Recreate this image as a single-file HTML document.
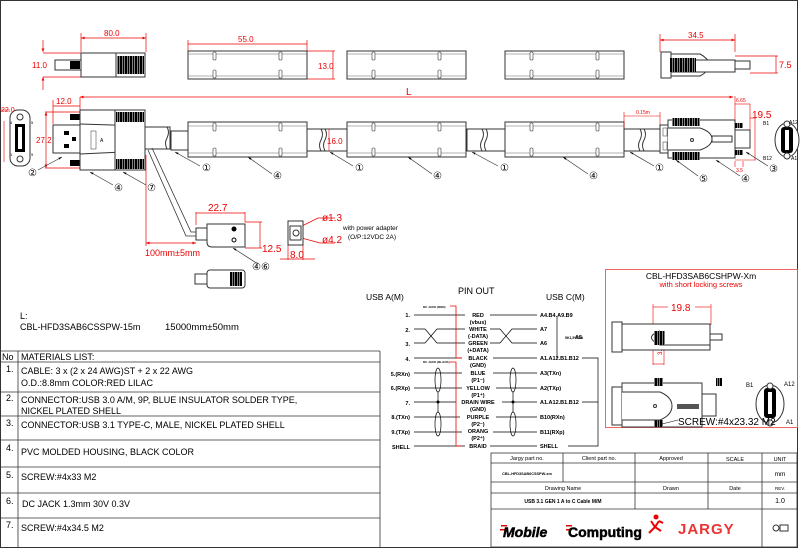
<!DOCTYPE html>
<html><head><meta charset="utf-8"><style>
html,body{margin:0;padding:0;background:#fff}
svg{display:block}
text{font-family:"Liberation Sans",Arial,sans-serif}
</style></head><body>
<svg width="800" height="549" viewBox="0 0 800 549" xmlns="http://www.w3.org/2000/svg">
<defs>
<marker id="ar" viewBox="0 0 10 10" refX="10" refY="5" markerWidth="5" markerHeight="5" orient="auto-start-reverse"><path d="M0,1 L10,5 L0,9z" fill="#e00"/></marker>
<marker id="ak" viewBox="0 0 10 10" refX="10" refY="5" markerWidth="5" markerHeight="5" orient="auto"><path d="M0,2 L10,5 L0,8z" fill="#000"/></marker>
<pattern id="thr" width="2.5" height="4" patternUnits="userSpaceOnUse"><rect width="2.5" height="4" fill="#000"/><rect x="2" width=".5" height="4" fill="#fff"/></pattern>
<g id="seg">
<rect x="0" y="0" width="119" height="35" fill="#fff" stroke="#333"/>
<line x1="0" y1="4" x2="119" y2="4" stroke="#666" stroke-width=".6"/>
<line x1="0" y1="31" x2="119" y2="31" stroke="#666" stroke-width=".6"/>
<rect x="25" y="1" width="3" height="8" fill="#fff" stroke="#333" stroke-width=".6" rx="1"/>
<rect x="91" y="1" width="3" height="8" fill="#fff" stroke="#333" stroke-width=".6" rx="1"/>
<rect x="25" y="26" width="3" height="8" fill="#fff" stroke="#333" stroke-width=".6" rx="1"/>
<rect x="91" y="26" width="3" height="8" fill="#fff" stroke="#333" stroke-width=".6" rx="1"/>
</g>
<g id="segt">
<rect x="0" y="0" width="119" height="28" fill="#fff" stroke="#333"/>
<line x1="0" y1="3" x2="119" y2="3" stroke="#666" stroke-width=".6"/>
<line x1="0" y1="25" x2="119" y2="25" stroke="#666" stroke-width=".6"/>
<rect x="25" y="1" width="3" height="8" fill="#fff" stroke="#333" stroke-width=".6" rx="1"/>
<rect x="91" y="1" width="3" height="8" fill="#fff" stroke="#333" stroke-width=".6" rx="1"/>
<rect x="25" y="19" width="3" height="8" fill="#fff" stroke="#333" stroke-width=".6" rx="1"/>
<rect x="91" y="19" width="3" height="8" fill="#fff" stroke="#333" stroke-width=".6" rx="1"/>
</g>
</defs>
<rect x="0.5" y="0.5" width="797" height="547" fill="none" stroke="#333"/>

<g stroke="#e00" stroke-width=".7" fill="none">
<line x1="81" y1="33" x2="81" y2="52"/><line x1="146" y1="33" x2="146" y2="52"/>
<line x1="81" y1="38" x2="146" y2="38" marker-start="url(#ar)" marker-end="url(#ar)"/>
<line x1="43" y1="40" x2="43" y2="52" marker-end="url(#ar)"/><line x1="43" y1="90" x2="43" y2="77" marker-end="url(#ar)"/>
<line x1="43" y1="53" x2="81" y2="53"/><line x1="43" y1="77" x2="81" y2="77"/>
<line x1="188" y1="40" x2="188" y2="51"/><line x1="307" y1="40" x2="307" y2="51"/>
<line x1="188" y1="44" x2="307" y2="44"/>
<line x1="307" y1="51" x2="335" y2="51"/><line x1="307" y1="79" x2="335" y2="79"/><line x1="333" y1="51" x2="333" y2="79"/>
<line x1="660" y1="34" x2="660" y2="52"/><line x1="735" y1="34" x2="735" y2="52"/>
<line x1="660" y1="40" x2="735" y2="40" marker-start="url(#ar)" marker-end="url(#ar)"/>
<line x1="735" y1="56" x2="778" y2="56"/><line x1="750" y1="73" x2="778" y2="73"/><line x1="776" y1="56" x2="776" y2="73"/>
</g>
<g fill="#e00" font-size="8">
<text x="104" y="36">80.0</text><text x="32" y="68">11.0</text>
<text x="238" y="42">55.0</text><text x="318" y="69">13.0</text>
<text x="688" y="38">34.5</text><text x="779" y="68" font-size="9">7.5</text>
</g>
<rect x="55" y="60" width="26" height="10" fill="#fff" stroke="#333"/>
<rect x="70" y="61" width="10" height="8" fill="#000"/>
<rect x="81" y="53" width="35" height="24" fill="#fff" stroke="#333"/>
<rect x="116" y="53" width="29" height="24" fill="#fff" stroke="#333"/>
<rect x="117" y="56" width="27" height="18" fill="url(#thr)"/>
<use href="#segt" x="188" y="51"/>
<use href="#segt" x="347" y="51"/>
<use href="#segt" x="505" y="51"/>
<rect x="661" y="52" width="10" height="26" fill="#fff" stroke="#333"/>
<path d="M671,54 H700 Q708,58 710,65 Q708,72 700,76 H671Z" fill="#fff" stroke="#333"/>
<rect x="671" y="60" width="64" height="12" fill="#fff" stroke="#333"/>
<rect x="670" y="58" width="26" height="14" fill="url(#thr)"/>
<rect x="735" y="61" width="15" height="8" fill="#fff" stroke="#333"/>

<line x1="80" y1="97" x2="733" y2="97" stroke="#e00" stroke-width=".7" marker-start="url(#ar)" marker-end="url(#ar)"/>
<line x1="80" y1="97" x2="80" y2="110" stroke="#e00" stroke-width=".7"/>
<text x="406" y="95" fill="#e00" font-size="10">L</text>

<rect x="10" y="110" width="20" height="56" rx="8" fill="#fff" stroke="#333"/>
<circle cx="20" cy="117" r="3" fill="#fff" stroke="#333"/><circle cx="20" cy="159" r="3" fill="#fff" stroke="#333"/>
<rect x="15" y="124" width="10" height="28" fill="#000"/>
<rect x="18" y="127" width="4" height="22" fill="#fff"/>
<g stroke="#e00" stroke-width=".6"><line x1="4" y1="121" x2="4" y2="162"/><line x1="0" y1="110" x2="10" y2="110"/></g>
<text x="1" y="112" fill="#e00" font-size="7">22.0</text>
<text x="10" y="124" font-size="4">4</text><text x="31" y="124" font-size="4">5</text>
<text x="10" y="156" font-size="4">1</text><text x="31" y="156" font-size="4">9</text>
<g stroke="#e00" stroke-width=".7" fill="none">
<line x1="53" y1="100" x2="53" y2="124"/><line x1="53" y1="106" x2="80" y2="106"/>
<line x1="45" y1="112" x2="80" y2="112"/><line x1="45" y1="168" x2="80" y2="168"/>
<line x1="46" y1="112" x2="46" y2="168" marker-start="url(#ar)" marker-end="url(#ar)"/>
</g>
<text x="56" y="104" fill="#e00" font-size="8">12.0</text>
<text x="36" y="143" fill="#e00" font-size="8">27.2</text>
<rect x="53" y="125" width="27" height="28" fill="#fff" stroke="#333"/>
<rect x="64" y="131" width="5" height="4" fill="#000"/><rect x="64" y="144" width="5" height="4" fill="#000"/><rect x="72" y="137" width="4" height="4" fill="#000"/>
<rect x="70" y="114" width="10" height="6" fill="#000"/><rect x="70" y="160" width="10" height="6" fill="#000"/>
<rect x="80" y="110" width="35" height="60" fill="#fff" stroke="#333"/>
<line x1="80" y1="124" x2="145" y2="126" stroke="#333"/><line x1="80" y1="154" x2="145" y2="151" stroke="#333"/>
<rect x="115" y="110" width="30" height="60" fill="#fff" stroke="#333"/>
<rect x="116" y="112" width="28" height="10" fill="url(#thr)"/>
<rect x="116" y="159" width="28" height="10" fill="url(#thr)"/>
<rect x="91" y="131" width="5" height="18" fill="#fff" stroke="#333" stroke-width=".5"/>
<text x="100" y="142" font-size="5">A</text>
<rect x="145" y="127" width="25" height="22" fill="#fff" stroke="#333"/>
<path d="M167,127 q3,5 0,11 q-3,5 0,11" fill="none" stroke="#333"/>
<rect x="171" y="131" width="17" height="19" fill="#fff" stroke="#333"/>
<use href="#seg" x="188" y="122"/>
<rect x="307" y="129" width="40" height="22" fill="#fff" stroke="#333"/>
<path d="M321,129 q3,5 0,11 q-3,5 0,11 M325,129 q3,5 0,11 q-3,5 0,11" fill="none" stroke="#333"/>
<text x="327" y="144" fill="#e00" font-size="8">16.0</text>
<line x1="329" y1="129" x2="329" y2="151" stroke="#e00" stroke-width=".6"/>
<use href="#seg" x="347" y="122"/>
<rect x="467" y="129" width="38" height="22" fill="#fff" stroke="#333"/>
<path d="M482,129 q3,5 0,11 q-3,5 0,11 M486,129 q3,5 0,11 q-3,5 0,11" fill="none" stroke="#333"/>
<use href="#seg" x="505" y="122"/>
<rect x="624" y="129" width="36" height="22" fill="#fff" stroke="#333"/>
<path d="M640,129 q3,5 0,11 q-3,5 0,11 M644,129 q3,5 0,11 q-3,5 0,11" fill="none" stroke="#333"/>
<g stroke="#e00" stroke-width=".6"><line x1="624" y1="112" x2="624" y2="128"/><line x1="660" y1="112" x2="660" y2="128"/><line x1="624" y1="116" x2="660" y2="116"/></g>
<text x="636" y="114" fill="#e00" font-size="5">0.15m</text>
<rect x="660" y="125" width="8" height="28" fill="#fff" stroke="#333"/>
<rect x="663" y="128" width="4" height="8" fill="#fff" stroke="#333" stroke-width=".5"/><rect x="663" y="142" width="4" height="8" fill="#fff" stroke="#333" stroke-width=".5"/>
<rect x="668" y="120" width="67" height="38" fill="#fff" stroke="#333"/>
<rect x="672" y="118" width="28" height="8" fill="url(#thr)"/>
<rect x="672" y="152" width="28" height="8" fill="url(#thr)"/>
<path d="M668,128 H700 Q712,132 712,139 Q712,146 700,150 H668" fill="#fff" stroke="#333"/>
<circle cx="692" cy="140" r="1.5" fill="none" stroke="#333"/>
<rect x="712" y="136" width="20" height="6" fill="#fff" stroke="#333"/>
<rect x="735" y="123" width="8" height="5" fill="url(#thr)"/><rect x="735" y="150" width="8" height="5" fill="url(#thr)"/>
<rect x="735" y="130" width="15" height="18" fill="#fff" stroke="#333"/>
<g stroke="#e00" stroke-width=".6" fill="none"><line x1="735" y1="96" x2="735" y2="120"/><line x1="750" y1="104" x2="750" y2="130"/><line x1="735" y1="104" x2="750" y2="104"/>
<line x1="750" y1="118" x2="756" y2="118"/><line x1="755" y1="118" x2="755" y2="160"/><line x1="735" y1="160" x2="756" y2="160"/>
<line x1="735" y1="161" x2="735" y2="167"/><line x1="743" y1="161" x2="743" y2="167"/></g>
<text x="736" y="102" fill="#e00" font-size="5">6.65</text>
<text x="752" y="118" fill="#e00" font-size="10">19.5</text>
<text x="736" y="172" fill="#e00" font-size="5">3.5</text>
<ellipse cx="787" cy="140" rx="12" ry="17" fill="#fff" stroke="#333"/>
<rect x="781" y="127" width="12" height="26" rx="3" fill="#000"/>
<rect x="785" y="130" width="4" height="20" fill="#fff"/>
<circle cx="787" cy="124" r="3" fill="#fff" stroke="#333"/><circle cx="787" cy="156" r="3" fill="#fff" stroke="#333"/>
<text x="763" y="125" font-size="5">B1</text><text x="789" y="124" font-size="5">A12</text>
<text x="763" y="160" font-size="5">B12</text><text x="791" y="160" font-size="5">A1</text>

<g stroke="#333" stroke-width=".7" fill="none">
<line x1="200" y1="166" x2="175" y2="152" marker-end="url(#ak)"/>
<line x1="272" y1="174" x2="248" y2="157" marker-end="url(#ak)"/>
<line x1="353" y1="166" x2="330" y2="152" marker-end="url(#ak)"/>
<line x1="432" y1="174" x2="408" y2="157" marker-end="url(#ak)"/>
<line x1="498" y1="166" x2="472" y2="152" marker-end="url(#ak)"/>
<line x1="588" y1="174" x2="563" y2="157" marker-end="url(#ak)"/>
<line x1="654" y1="166" x2="630" y2="152" marker-end="url(#ak)"/>
<line x1="698" y1="176" x2="676" y2="160" marker-end="url(#ak)"/>
<line x1="740" y1="176" x2="716" y2="160" marker-end="url(#ak)"/>
<line x1="768" y1="166" x2="746" y2="152" marker-end="url(#ak)"/>
<line x1="38" y1="170" x2="62" y2="157" marker-end="url(#ak)"/>
<line x1="113" y1="185" x2="90" y2="172" marker-end="url(#ak)"/>
<line x1="146" y1="185" x2="123" y2="172" marker-end="url(#ak)"/>
<line x1="258" y1="264" x2="233" y2="248" marker-end="url(#ak)"/>
</g>
<g font-size="10" fill="#000">
<text x="202" y="171">①</text><text x="273" y="179">④</text><text x="355" y="171">①</text><text x="433" y="179">④</text>
<text x="500" y="171">①</text><text x="589" y="179">④</text><text x="655" y="171">①</text><text x="699" y="182">⑤</text>
<text x="741" y="182">④</text><text x="769" y="172">③</text><text x="28" y="176">②</text><text x="114" y="191">④</text>
<text x="147" y="191">⑦</text><text x="252" y="270">④⑥</text>
</g>
<g stroke="#333" stroke-width=".8" fill="none">
<path d="M148,150 L186,236 H196"/><path d="M152,148 L191,232 H196"/>
</g>
<g stroke="#e00" stroke-width=".7" fill="none">
<line x1="146" y1="155" x2="146" y2="246"/><line x1="146" y1="243" x2="196" y2="243" marker-start="url(#ar)" marker-end="url(#ar)"/>
<line x1="196" y1="212" x2="196" y2="225"/><line x1="245" y1="212" x2="245" y2="222"/><line x1="196" y1="213" x2="245" y2="213"/>
<line x1="245" y1="222" x2="262" y2="222"/><line x1="245" y1="248" x2="262" y2="248"/><line x1="260" y1="222" x2="260" y2="248"/>
<path d="M298,228 L318,218 H335"/><path d="M298,237 L320,243 H335"/>
<line x1="288" y1="245" x2="288" y2="260"/><line x1="303" y1="245" x2="303" y2="260"/><line x1="280" y1="259" x2="315" y2="259"/>
</g>
<text x="145" y="256" fill="#e00" font-size="9">100mm±5mm</text>
<text x="208" y="211" fill="#e00" font-size="10">22.7</text>
<text x="262" y="252" fill="#e00" font-size="10">12.5</text>
<text x="322" y="221" fill="#e00" font-size="10">ø1.3</text>
<text x="322" y="243" fill="#e00" font-size="10">ø4.2</text>
<text x="290" y="258" fill="#e00" font-size="10">8.0</text>
<text x="343" y="230" font-size="6.5">with power adapter</text>
<text x="348" y="239" font-size="6.5">(O/P:12VDC 2A)</text>
<rect x="196" y="228" width="11" height="12" fill="#fff" stroke="#333"/>
<path d="M207,224 H245 V247 H212 Q207,247 207,242Z" fill="#fff" stroke="#333"/>
<circle cx="234" cy="229" r="2.5" fill="#000"/><circle cx="234" cy="240" r="2" fill="none" stroke="#000"/>
<rect x="288" y="221" width="15" height="24" fill="#fff" stroke="#333"/>
<rect x="290" y="226" width="11" height="14" fill="#fff" stroke="#333"/>
<circle cx="296" cy="233" r="3" fill="none" stroke="#333"/>
<rect x="195" y="274" width="12" height="10" fill="#fff" stroke="#333"/>
<rect x="207" y="270" width="38" height="18" rx="3" fill="#fff" stroke="#333"/>
<rect x="230" y="272" width="12" height="14" fill="url(#thr)"/>

<text x="20" y="319" font-size="9">L:</text>
<text x="20" y="330" font-size="9">CBL-HFD3SAB6CSSPW-15m</text>
<text x="165" y="330" font-size="9.5">15000mm±50mm</text>
<g stroke="#333" stroke-width=".8" fill="none">
<line x1="0" y1="351" x2="380" y2="351"/><line x1="0" y1="362" x2="380" y2="362"/>
<line x1="0" y1="392" x2="380" y2="392"/><line x1="0" y1="416" x2="380" y2="416"/>
<line x1="0" y1="440" x2="380" y2="440"/><line x1="0" y1="467" x2="380" y2="467"/>
<line x1="0" y1="493" x2="380" y2="493"/><line x1="0" y1="518" x2="380" y2="518"/>
<line x1="18" y1="351" x2="18" y2="547"/><line x1="380" y1="351" x2="380" y2="547"/>
</g>
<g font-size="9">
<text x="2" y="360">No</text><text x="21" y="360">MATERIALS LIST:</text>
<text x="6" y="372">1.</text><text x="21" y="374">CABLE: 3 x (2 x 24 AWG)ST + 2 x 22 AWG</text><text x="21" y="386">O.D.:8.8mm COLOR:RED LILAC</text>
<text x="6" y="401">2.</text><text x="21" y="403">CONNECTOR:USB 3.0 A/M, 9P, BLUE INSULATOR SOLDER TYPE,</text><text x="21" y="414">NICKEL PLATED SHELL</text>
<text x="6" y="426">3.</text><text x="21" y="428">CONNECTOR:USB 3.1 TYPE-C, MALE, NICKEL PLATED SHELL</text>
<text x="6" y="451">4.</text><text x="21" y="455">PVC MOLDED HOUSING, BLACK COLOR</text>
<text x="6" y="478">5.</text><text x="21" y="480">SCREW:#4x33 M2</text>
<text x="6" y="504">6.</text><text x="22" y="507">DC JACK 1.3mm 30V 0.3V</text>
<text x="6" y="528">7.</text><text x="21" y="531">SCREW:#4x34.5 M2</text>
</g>

<text x="458" y="294" font-size="9">PIN OUT</text>
<text x="366" y="300" font-size="8.5">USB A(M)</text>
<text x="546" y="300" font-size="8.5">USB C(M)</text>
<g font-size="5.5" font-weight="bold" fill="#000">
<g text-anchor="end">
<text x="410" y="317">1.</text><text x="410" y="332">2.</text><text x="410" y="346">3.</text><text x="410" y="361">4.</text>
<text x="410" y="376">5.(RXn)</text><text x="410" y="390">6.(RXp)</text><text x="410" y="405">7.</text>
<text x="410" y="419">8.(TXn)</text><text x="410" y="434">9.(TXp)</text><text x="410" y="449">SHELL</text>
</g>
<g text-anchor="middle">
<text x="478" y="317">RED</text><text x="478" y="324">(vbus)</text>
<text x="478" y="331">WHITE</text><text x="478" y="338">(-DATA)</text>
<text x="478" y="345">GREEN</text><text x="478" y="352">(+DATA)</text>
<text x="478" y="360">BLACK</text><text x="478" y="367">(GND)</text>
<text x="478" y="375">BLUE</text><text x="478" y="382">(P1⁻)</text>
<text x="478" y="390">YELLOW</text><text x="478" y="397">(P1⁺)</text>
<text x="478" y="404">DRAIN WIRE</text><text x="478" y="411">(GND)</text>
<text x="478" y="419">PURPLE</text><text x="478" y="426">(P2⁻)</text>
<text x="478" y="433">ORANG</text><text x="478" y="440">(P2⁺)</text>
<text x="478" y="448">BRAID</text>
</g>
<text x="540" y="317">A4.B4.A9.B9</text><text x="540" y="331">A7</text><text x="540" y="345">A6</text>
<text x="540" y="360">A1.A12.B1.B12</text><text x="540" y="375">A3(TXn)</text><text x="540" y="390">A2(TXp)</text>
<text x="540" y="404">A1.A12.B1.B12</text><text x="540" y="419">B10(RXn)</text><text x="540" y="434">B11(RXp)</text><text x="540" y="448">SHELL</text>
<text x="565" y="339" font-size="3.5">5K1,5%ΩΩ</text><text x="575" y="339">A5</text>
<text x="423" y="308" font-size="3">DC JACK (RED)</text><text x="423" y="363" font-size="3">DC JACK (BLACK)</text>
</g>
<g stroke="#000" stroke-width=".7" fill="none">
<line x1="414" y1="315" x2="465" y2="315"/><line x1="490" y1="315" x2="537" y2="315"/>
<path d="M414,329 H425 L437,343 H465 M414,343 H425 L437,329 H465"/>
<path d="M490,329 H500 L512,343 H537 M490,343 H500 L512,329 H537"/>
<line x1="414" y1="358" x2="462" y2="358"/><line x1="493" y1="358" x2="537" y2="358"/>
<line x1="414" y1="373" x2="462" y2="373"/><line x1="493" y1="373" x2="537" y2="373"/>
<line x1="414" y1="388" x2="462" y2="388"/><line x1="496" y1="388" x2="537" y2="388"/>
<line x1="414" y1="402" x2="456" y2="402"/><line x1="502" y1="402" x2="537" y2="402"/>
<line x1="414" y1="417" x2="460" y2="417"/><line x1="496" y1="417" x2="537" y2="417"/>
<line x1="414" y1="432" x2="462" y2="432"/><line x1="493" y1="432" x2="537" y2="432"/>
<line x1="414" y1="446" x2="465" y2="446"/><line x1="490" y1="446" x2="537" y2="446"/>
<ellipse cx="438" cy="380" rx="3" ry="12"/><ellipse cx="513" cy="380" rx="3" ry="12"/>
<ellipse cx="438" cy="424" rx="3" ry="12"/><ellipse cx="513" cy="424" rx="3" ry="12"/>
<line x1="438" y1="392" x2="438" y2="412"/><line x1="513" y1="392" x2="513" y2="412"/>
<line x1="557" y1="317" x2="557" y2="358"/>
<path d="M582,358 H598 V446 H568 M582,402 H598"/>
</g>
<circle cx="438" cy="402" r="1.5"/><circle cx="513" cy="402" r="1.5"/>
<g stroke="#e00" stroke-width=".8" fill="none">
<path d="M450,306 H456 V358 H462"/><path d="M450,362 H456 V446 H462"/>
</g>

<rect x="605.5" y="269.5" width="192" height="158" fill="none" stroke="#e55" stroke-width=".9"/>
<text x="701" y="279" font-size="8.5" text-anchor="middle">CBL-HFD3SAB6CSHPW-Xm</text>
<text x="701" y="287" font-size="7.5" text-anchor="middle" fill="#e00">with short locking screws</text>
<g stroke="#e00" stroke-width=".6" fill="none">
<line x1="653" y1="304" x2="653" y2="365"/><line x1="711" y1="304" x2="711" y2="325"/>
<line x1="653" y1="307" x2="668" y2="307"/><line x1="695" y1="307" x2="711" y2="307"/>
<line x1="664" y1="334" x2="664" y2="365"/><line x1="653" y1="364" x2="664" y2="364"/>
</g>
<text x="671" y="311" fill="#e00" font-size="10">19.8</text>
<text x="662" y="355" fill="#e00" font-size="6" transform="rotate(-90 662 355)">3.22</text>
<rect x="612" y="322" width="10" height="30" fill="#fff" stroke="#333"/>
<rect x="622" y="324" width="88" height="26" fill="#fff" stroke="#333"/>
<path d="M660,331 Q643,337 660,345 H710" fill="#fff" stroke="#333"/>
<rect x="654" y="331" width="11" height="14" fill="url(#thr)"/>
<rect x="710" y="334" width="12" height="6" fill="#fff" stroke="#333"/>
<rect x="612" y="387" width="10" height="38" fill="#fff" stroke="#333"/>
<rect x="622" y="383" width="80" height="44" fill="#fff" stroke="#333"/>
<rect x="654" y="378" width="9" height="8" fill="url(#thr)"/><rect x="654" y="420" width="9" height="7" fill="url(#thr)"/>
<rect x="716" y="378" width="6" height="8" fill="url(#thr)"/>
<path d="M622,392 H660 Q672,397 672,406 Q672,415 660,420 H622" fill="#fff" stroke="#333"/>
<circle cx="655" cy="406" r="1.5" fill="none" stroke="#333"/>
<rect x="677" y="404" width="22" height="5" fill="#555"/>
<rect x="702" y="394" width="14" height="22" fill="#fff" stroke="#333"/>
<ellipse cx="770" cy="404" rx="14" ry="19" fill="#fff" stroke="#333"/>
<rect x="764" y="388" width="12" height="30" rx="3" fill="#000"/><rect x="768" y="392" width="4" height="22" fill="#fff"/>
<circle cx="770" cy="386" r="3" fill="#fff" stroke="#333"/><circle cx="770" cy="423" r="3" fill="#fff" stroke="#333"/>
<text x="746" y="387" font-size="6">B1</text><text x="784" y="386" font-size="6">A12</text>
<text x="786" y="424" font-size="6">A1</text>
<line x1="678" y1="420" x2="662" y2="424" stroke="#000" stroke-width=".6"/>
<text x="678" y="425" font-size="10">SCREW:#4x23.32 M2</text>

<g stroke="#333" stroke-width=".8" fill="none">
<rect x="491" y="453" width="306" height="94"/>
<line x1="491" y1="463" x2="797" y2="463"/><line x1="491" y1="482" x2="797" y2="482"/>
<line x1="491" y1="493" x2="797" y2="493"/><line x1="491" y1="509" x2="797" y2="509"/>
<line x1="563" y1="453" x2="563" y2="482"/><line x1="635" y1="453" x2="635" y2="509"/>
<line x1="708" y1="453" x2="708" y2="509"/><line x1="762" y1="453" x2="762" y2="547"/>
</g>
<g font-size="5.5" text-anchor="middle">
<text x="527" y="460">Jargy part no.</text><text x="599" y="460">Client part no.</text>
<text x="671" y="460">Approved</text><text x="735" y="461">SCALE</text><text x="780" y="461">UNIT</text>
<text x="527" y="475" font-size="3.8" font-weight="bold">CBL-HFD3SAB6CSSPW-xm</text>
<text x="780" y="476" font-size="6.5">mm</text>
<text x="563" y="490">Drawing Name</text><text x="671" y="490">Drawn</text><text x="735" y="490">Date</text><text x="780" y="490" font-size="4.5">REV.</text>
<text x="563" y="503" font-weight="bold" font-size="5">USB 3.1 GEN 1 A to C Cable M/M</text>
<text x="780" y="503" font-size="7">1.0</text>
</g>
<g fill="#e00"><rect x="501" y="525" width="6" height="1.5"/><rect x="500" y="529" width="6" height="1.5"/><rect x="566" y="525" width="6" height="1.5"/><rect x="566" y="529" width="6" height="1.5"/></g>
<text x="503" y="537" font-size="14" font-weight="bold" font-style="italic" fill="#000" stroke="#000" stroke-width=".5">Mobile</text>
<text x="568" y="537" font-size="14" font-weight="bold" fill="#000" stroke="#000" stroke-width=".5">Computing</text>
<path d="M651,521 l4,6 l-6,6 m6,-6 l6,4 m-6,-4 l4,-6 m0,0 l4,2" stroke="#e00" stroke-width="2" fill="none"/>
<circle cx="656" cy="517" r="2.5" fill="#e00"/>
<text x="678" y="534" font-size="15" font-weight="bold" fill="#e33" letter-spacing="1">JARGY</text>
<circle cx="776" cy="528" r="3" fill="none" stroke="#333"/><rect x="780" y="525" width="8" height="6" fill="none" stroke="#333"/>
</svg>
</body></html>
